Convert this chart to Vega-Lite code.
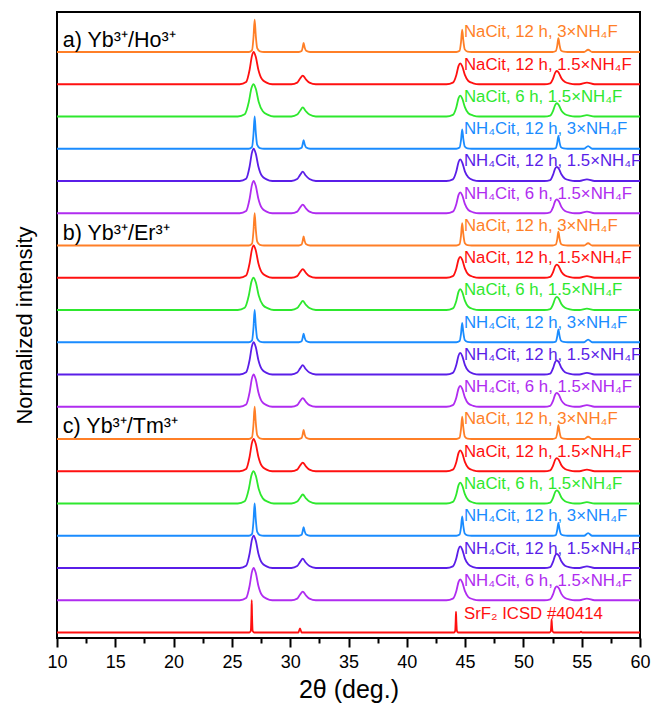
{
"$schema":"https://vega.github.io/schema/vega-lite/v6.json",
"width":583,"height":626,
"autosize":{"type":"none"},
"padding":{"left":57,"top":12,"right":14,"bottom":68},
"config":{"view":{"stroke":"black","strokeWidth":2},"font":"Liberation Sans"},
"datasets":{
"xrd":[
{"s":"a1","x":10,"y":18},{"s":"a1","x":26.45,"y":18},{"s":"a1","x":26.73,"y":18.06},{"s":"a1","x":26.85,"y":18.45},{"s":"a1","x":26.95,"y":19},{"s":"a1","x":27.05,"y":18.5},{"s":"a1","x":27.17,"y":18.12},{"s":"a1","x":27.4,"y":18.02},{"s":"a1","x":27.75,"y":18},
{"s":"a1","x":30.75,"y":18},{"s":"a1","x":30.98,"y":18.03},{"s":"a1","x":31.07,"y":18.14},{"s":"a1","x":31.15,"y":18.28},{"s":"a1","x":31.24,"y":18.14},{"s":"a1","x":31.37,"y":18.04},{"s":"a1","x":31.7,"y":18},
{"s":"a1","x":44.25,"y":18},{"s":"a1","x":44.53,"y":18.04},{"s":"a1","x":44.65,"y":18.31},{"s":"a1","x":44.75,"y":18.69},{"s":"a1","x":44.85,"y":18.35},{"s":"a1","x":44.97,"y":18.08},{"s":"a1","x":45.2,"y":18.01},{"s":"a1","x":45.55,"y":18},
{"s":"a1","x":52.5,"y":18},{"s":"a1","x":52.78,"y":18.03},{"s":"a1","x":52.9,"y":18.19},{"s":"a1","x":53,"y":18.43},{"s":"a1","x":53.1,"y":18.22},{"s":"a1","x":53.22,"y":18.05},{"s":"a1","x":53.45,"y":18.01},{"s":"a1","x":53.8,"y":18},
{"s":"a1","x":55.2,"y":18},{"s":"a1","x":55.55,"y":18.07},{"s":"a1","x":55.9,"y":18},{"s":"a1","x":60,"y":18},

{"s":"a2","x":10,"y":17},{"s":"a2","x":25.67,"y":17},{"s":"a2","x":26.22,"y":17.07},{"s":"a2","x":26.52,"y":17.45},{"s":"a2","x":26.72,"y":17.88},{"s":"a2","x":26.87,"y":18},{"s":"a2","x":27.04,"y":17.86},{"s":"a2","x":27.27,"y":17.45},{"s":"a2","x":27.57,"y":17.16},{"s":"a2","x":27.97,"y":17.05},{"s":"a2","x":28.47,"y":17},
{"s":"a2","x":30.1,"y":17},{"s":"a2","x":30.6,"y":17.05},{"s":"a2","x":30.85,"y":17.18},{"s":"a2","x":31.08,"y":17.27},{"s":"a2","x":31.33,"y":17.16},{"s":"a2","x":31.65,"y":17.05},{"s":"a2","x":32.2,"y":17},
{"s":"a2","x":43.4,"y":17},{"s":"a2","x":43.95,"y":17.05},{"s":"a2","x":44.25,"y":17.29},{"s":"a2","x":44.44,"y":17.57},{"s":"a2","x":44.58,"y":17.65},{"s":"a2","x":44.75,"y":17.56},{"s":"a2","x":44.98,"y":17.29},{"s":"a2","x":45.28,"y":17.1},{"s":"a2","x":45.7,"y":17.03},{"s":"a2","x":46.2,"y":17},
{"s":"a2","x":51.8,"y":17},{"s":"a2","x":52.3,"y":17.03},{"s":"a2","x":52.55,"y":17.18},{"s":"a2","x":52.73,"y":17.36},{"s":"a2","x":52.87,"y":17.41},{"s":"a2","x":53.04,"y":17.35},{"s":"a2","x":53.27,"y":17.18},{"s":"a2","x":53.57,"y":17.07},{"s":"a2","x":54,"y":17.02},{"s":"a2","x":54.4,"y":17},
{"s":"a2","x":54.8,"y":17},{"s":"a2","x":55.45,"y":17.05},{"s":"a2","x":56.1,"y":17},{"s":"a2","x":60,"y":17},

{"s":"a3","x":10,"y":16},{"s":"a3","x":25.5,"y":16},{"s":"a3","x":26.1,"y":16.07},{"s":"a3","x":26.45,"y":16.45},{"s":"a3","x":26.68,"y":16.88},{"s":"a3","x":26.85,"y":17},{"s":"a3","x":27.05,"y":16.86},{"s":"a3","x":27.3,"y":16.45},{"s":"a3","x":27.65,"y":16.16},{"s":"a3","x":28.1,"y":16.05},{"s":"a3","x":28.6,"y":16},
{"s":"a3","x":30.1,"y":16},{"s":"a3","x":30.6,"y":16.06},{"s":"a3","x":30.85,"y":16.18},{"s":"a3","x":31.08,"y":16.28},{"s":"a3","x":31.33,"y":16.17},{"s":"a3","x":31.65,"y":16.06},{"s":"a3","x":32.2,"y":16},
{"s":"a3","x":43.4,"y":16},{"s":"a3","x":43.95,"y":16.05},{"s":"a3","x":44.25,"y":16.29},{"s":"a3","x":44.44,"y":16.57},{"s":"a3","x":44.58,"y":16.65},{"s":"a3","x":44.75,"y":16.56},{"s":"a3","x":44.98,"y":16.29},{"s":"a3","x":45.28,"y":16.1},{"s":"a3","x":45.7,"y":16.03},{"s":"a3","x":46.2,"y":16},
{"s":"a3","x":51.8,"y":16},{"s":"a3","x":52.3,"y":16.03},{"s":"a3","x":52.55,"y":16.18},{"s":"a3","x":52.73,"y":16.36},{"s":"a3","x":52.87,"y":16.41},{"s":"a3","x":53.04,"y":16.35},{"s":"a3","x":53.27,"y":16.18},{"s":"a3","x":53.57,"y":16.07},{"s":"a3","x":54,"y":16.02},{"s":"a3","x":54.4,"y":16},
{"s":"a3","x":54.8,"y":16},{"s":"a3","x":55.45,"y":16.04},{"s":"a3","x":56.1,"y":16},{"s":"a3","x":60,"y":16},

{"s":"a4","x":10,"y":15},{"s":"a4","x":26.45,"y":15},{"s":"a4","x":26.73,"y":15.06},{"s":"a4","x":26.85,"y":15.45},{"s":"a4","x":26.95,"y":16},{"s":"a4","x":27.05,"y":15.5},{"s":"a4","x":27.17,"y":15.12},{"s":"a4","x":27.4,"y":15.02},{"s":"a4","x":27.75,"y":15},
{"s":"a4","x":30.75,"y":15},{"s":"a4","x":30.98,"y":15.03},{"s":"a4","x":31.07,"y":15.14},{"s":"a4","x":31.15,"y":15.27},{"s":"a4","x":31.24,"y":15.14},{"s":"a4","x":31.37,"y":15.04},{"s":"a4","x":31.7,"y":15},
{"s":"a4","x":44.25,"y":15},{"s":"a4","x":44.53,"y":15.04},{"s":"a4","x":44.65,"y":15.27},{"s":"a4","x":44.75,"y":15.6},{"s":"a4","x":44.85,"y":15.3},{"s":"a4","x":44.97,"y":15.07},{"s":"a4","x":45.2,"y":15.01},{"s":"a4","x":45.55,"y":15},
{"s":"a4","x":52.5,"y":15},{"s":"a4","x":52.78,"y":15.02},{"s":"a4","x":52.9,"y":15.18},{"s":"a4","x":53,"y":15.4},{"s":"a4","x":53.1,"y":15.2},{"s":"a4","x":53.22,"y":15.05},{"s":"a4","x":53.45,"y":15.01},{"s":"a4","x":53.8,"y":15},
{"s":"a4","x":55.2,"y":15},{"s":"a4","x":55.55,"y":15.08},{"s":"a4","x":55.9,"y":15},{"s":"a4","x":60,"y":15},

{"s":"a5","x":10,"y":14},{"s":"a5","x":25.67,"y":14},{"s":"a5","x":26.22,"y":14.07},{"s":"a5","x":26.52,"y":14.45},{"s":"a5","x":26.72,"y":14.88},{"s":"a5","x":26.87,"y":15},{"s":"a5","x":27.04,"y":14.86},{"s":"a5","x":27.27,"y":14.45},{"s":"a5","x":27.57,"y":14.16},{"s":"a5","x":27.97,"y":14.05},{"s":"a5","x":28.47,"y":14},
{"s":"a5","x":30.1,"y":14},{"s":"a5","x":30.6,"y":14.06},{"s":"a5","x":30.85,"y":14.19},{"s":"a5","x":31.08,"y":14.29},{"s":"a5","x":31.33,"y":14.17},{"s":"a5","x":31.65,"y":14.06},{"s":"a5","x":32.2,"y":14},
{"s":"a5","x":43.4,"y":14},{"s":"a5","x":43.95,"y":14.05},{"s":"a5","x":44.25,"y":14.3},{"s":"a5","x":44.44,"y":14.59},{"s":"a5","x":44.58,"y":14.67},{"s":"a5","x":44.75,"y":14.58},{"s":"a5","x":44.98,"y":14.3},{"s":"a5","x":45.28,"y":14.11},{"s":"a5","x":45.7,"y":14.03},{"s":"a5","x":46.2,"y":14},
{"s":"a5","x":51.8,"y":14},{"s":"a5","x":52.3,"y":14.03},{"s":"a5","x":52.55,"y":14.2},{"s":"a5","x":52.73,"y":14.39},{"s":"a5","x":52.87,"y":14.44},{"s":"a5","x":53.04,"y":14.38},{"s":"a5","x":53.27,"y":14.2},{"s":"a5","x":53.57,"y":14.07},{"s":"a5","x":54,"y":14.02},{"s":"a5","x":54.4,"y":14},
{"s":"a5","x":54.8,"y":14},{"s":"a5","x":55.45,"y":14.05},{"s":"a5","x":56.1,"y":14},{"s":"a5","x":60,"y":14},

{"s":"a6","x":10,"y":13},{"s":"a6","x":25.67,"y":13},{"s":"a6","x":26.22,"y":13.07},{"s":"a6","x":26.52,"y":13.45},{"s":"a6","x":26.72,"y":13.88},{"s":"a6","x":26.87,"y":14},{"s":"a6","x":27.04,"y":13.86},{"s":"a6","x":27.27,"y":13.45},{"s":"a6","x":27.57,"y":13.16},{"s":"a6","x":27.97,"y":13.05},{"s":"a6","x":28.47,"y":13},
{"s":"a6","x":30.1,"y":13},{"s":"a6","x":30.6,"y":13.05},{"s":"a6","x":30.85,"y":13.18},{"s":"a6","x":31.08,"y":13.27},{"s":"a6","x":31.33,"y":13.16},{"s":"a6","x":31.65,"y":13.05},{"s":"a6","x":32.2,"y":13},
{"s":"a6","x":43.4,"y":13},{"s":"a6","x":43.95,"y":13.05},{"s":"a6","x":44.25,"y":13.29},{"s":"a6","x":44.44,"y":13.57},{"s":"a6","x":44.58,"y":13.65},{"s":"a6","x":44.75,"y":13.56},{"s":"a6","x":44.98,"y":13.29},{"s":"a6","x":45.28,"y":13.1},{"s":"a6","x":45.7,"y":13.03},{"s":"a6","x":46.2,"y":13},
{"s":"a6","x":51.8,"y":13},{"s":"a6","x":52.3,"y":13.03},{"s":"a6","x":52.55,"y":13.19},{"s":"a6","x":52.73,"y":13.38},{"s":"a6","x":52.87,"y":13.43},{"s":"a6","x":53.04,"y":13.37},{"s":"a6","x":53.27,"y":13.19},{"s":"a6","x":53.57,"y":13.07},{"s":"a6","x":54,"y":13.02},{"s":"a6","x":54.4,"y":13},
{"s":"a6","x":54.8,"y":13},{"s":"a6","x":55.45,"y":13.05},{"s":"a6","x":56.1,"y":13},{"s":"a6","x":60,"y":13},

{"s":"b1","x":10,"y":12},{"s":"b1","x":26.45,"y":12},{"s":"b1","x":26.73,"y":12.06},{"s":"b1","x":26.85,"y":12.45},{"s":"b1","x":26.95,"y":13},{"s":"b1","x":27.05,"y":12.5},{"s":"b1","x":27.17,"y":12.12},{"s":"b1","x":27.4,"y":12.02},{"s":"b1","x":27.75,"y":12},
{"s":"b1","x":30.75,"y":12},{"s":"b1","x":30.98,"y":12.03},{"s":"b1","x":31.07,"y":12.14},{"s":"b1","x":31.15,"y":12.28},{"s":"b1","x":31.24,"y":12.14},{"s":"b1","x":31.37,"y":12.04},{"s":"b1","x":31.7,"y":12},
{"s":"b1","x":44.25,"y":12},{"s":"b1","x":44.53,"y":12.04},{"s":"b1","x":44.65,"y":12.31},{"s":"b1","x":44.75,"y":12.69},{"s":"b1","x":44.85,"y":12.35},{"s":"b1","x":44.97,"y":12.08},{"s":"b1","x":45.2,"y":12.01},{"s":"b1","x":45.55,"y":12},
{"s":"b1","x":52.5,"y":12},{"s":"b1","x":52.78,"y":12.03},{"s":"b1","x":52.9,"y":12.19},{"s":"b1","x":53,"y":12.43},{"s":"b1","x":53.1,"y":12.22},{"s":"b1","x":53.22,"y":12.05},{"s":"b1","x":53.45,"y":12.01},{"s":"b1","x":53.8,"y":12},
{"s":"b1","x":55.2,"y":12},{"s":"b1","x":55.55,"y":12.07},{"s":"b1","x":55.9,"y":12},{"s":"b1","x":60,"y":12},

{"s":"b2","x":10,"y":11},{"s":"b2","x":25.67,"y":11},{"s":"b2","x":26.22,"y":11.07},{"s":"b2","x":26.52,"y":11.45},{"s":"b2","x":26.72,"y":11.88},{"s":"b2","x":26.87,"y":12},{"s":"b2","x":27.04,"y":11.86},{"s":"b2","x":27.27,"y":11.45},{"s":"b2","x":27.57,"y":11.16},{"s":"b2","x":27.97,"y":11.05},{"s":"b2","x":28.47,"y":11},
{"s":"b2","x":30.1,"y":11},{"s":"b2","x":30.6,"y":11.05},{"s":"b2","x":30.85,"y":11.18},{"s":"b2","x":31.08,"y":11.27},{"s":"b2","x":31.33,"y":11.16},{"s":"b2","x":31.65,"y":11.05},{"s":"b2","x":32.2,"y":11},
{"s":"b2","x":43.4,"y":11},{"s":"b2","x":43.95,"y":11.05},{"s":"b2","x":44.25,"y":11.29},{"s":"b2","x":44.44,"y":11.57},{"s":"b2","x":44.58,"y":11.65},{"s":"b2","x":44.75,"y":11.56},{"s":"b2","x":44.98,"y":11.29},{"s":"b2","x":45.28,"y":11.1},{"s":"b2","x":45.7,"y":11.03},{"s":"b2","x":46.2,"y":11},
{"s":"b2","x":51.8,"y":11},{"s":"b2","x":52.3,"y":11.03},{"s":"b2","x":52.55,"y":11.18},{"s":"b2","x":52.73,"y":11.36},{"s":"b2","x":52.87,"y":11.41},{"s":"b2","x":53.04,"y":11.35},{"s":"b2","x":53.27,"y":11.18},{"s":"b2","x":53.57,"y":11.07},{"s":"b2","x":54,"y":11.02},{"s":"b2","x":54.4,"y":11},
{"s":"b2","x":54.8,"y":11},{"s":"b2","x":55.45,"y":11.05},{"s":"b2","x":56.1,"y":11},{"s":"b2","x":60,"y":11},

{"s":"b3","x":10,"y":10},{"s":"b3","x":25.5,"y":10},{"s":"b3","x":26.1,"y":10.07},{"s":"b3","x":26.45,"y":10.45},{"s":"b3","x":26.68,"y":10.88},{"s":"b3","x":26.85,"y":11},{"s":"b3","x":27.05,"y":10.86},{"s":"b3","x":27.3,"y":10.45},{"s":"b3","x":27.65,"y":10.16},{"s":"b3","x":28.1,"y":10.05},{"s":"b3","x":28.6,"y":10},
{"s":"b3","x":30.1,"y":10},{"s":"b3","x":30.6,"y":10.06},{"s":"b3","x":30.85,"y":10.18},{"s":"b3","x":31.08,"y":10.28},{"s":"b3","x":31.33,"y":10.17},{"s":"b3","x":31.65,"y":10.06},{"s":"b3","x":32.2,"y":10},
{"s":"b3","x":43.4,"y":10},{"s":"b3","x":43.95,"y":10.05},{"s":"b3","x":44.25,"y":10.29},{"s":"b3","x":44.44,"y":10.57},{"s":"b3","x":44.58,"y":10.65},{"s":"b3","x":44.75,"y":10.56},{"s":"b3","x":44.98,"y":10.29},{"s":"b3","x":45.28,"y":10.1},{"s":"b3","x":45.7,"y":10.03},{"s":"b3","x":46.2,"y":10},
{"s":"b3","x":51.8,"y":10},{"s":"b3","x":52.3,"y":10.03},{"s":"b3","x":52.55,"y":10.18},{"s":"b3","x":52.73,"y":10.36},{"s":"b3","x":52.87,"y":10.41},{"s":"b3","x":53.04,"y":10.35},{"s":"b3","x":53.27,"y":10.18},{"s":"b3","x":53.57,"y":10.07},{"s":"b3","x":54,"y":10.02},{"s":"b3","x":54.4,"y":10},
{"s":"b3","x":54.8,"y":10},{"s":"b3","x":55.45,"y":10.04},{"s":"b3","x":56.1,"y":10},{"s":"b3","x":60,"y":10},

{"s":"b4","x":10,"y":9},{"s":"b4","x":26.45,"y":9},{"s":"b4","x":26.73,"y":9.06},{"s":"b4","x":26.85,"y":9.45},{"s":"b4","x":26.95,"y":10},{"s":"b4","x":27.05,"y":9.5},{"s":"b4","x":27.17,"y":9.12},{"s":"b4","x":27.4,"y":9.02},{"s":"b4","x":27.75,"y":9},
{"s":"b4","x":30.75,"y":9},{"s":"b4","x":30.98,"y":9.03},{"s":"b4","x":31.07,"y":9.14},{"s":"b4","x":31.15,"y":9.27},{"s":"b4","x":31.24,"y":9.14},{"s":"b4","x":31.37,"y":9.04},{"s":"b4","x":31.7,"y":9},
{"s":"b4","x":44.25,"y":9},{"s":"b4","x":44.53,"y":9.04},{"s":"b4","x":44.65,"y":9.27},{"s":"b4","x":44.75,"y":9.6},{"s":"b4","x":44.85,"y":9.3},{"s":"b4","x":44.97,"y":9.07},{"s":"b4","x":45.2,"y":9.01},{"s":"b4","x":45.55,"y":9},
{"s":"b4","x":52.5,"y":9},{"s":"b4","x":52.78,"y":9.02},{"s":"b4","x":52.9,"y":9.18},{"s":"b4","x":53,"y":9.4},{"s":"b4","x":53.1,"y":9.2},{"s":"b4","x":53.22,"y":9.05},{"s":"b4","x":53.45,"y":9.01},{"s":"b4","x":53.8,"y":9},
{"s":"b4","x":55.2,"y":9},{"s":"b4","x":55.55,"y":9.08},{"s":"b4","x":55.9,"y":9},{"s":"b4","x":60,"y":9},

{"s":"b5","x":10,"y":8},{"s":"b5","x":25.67,"y":8},{"s":"b5","x":26.22,"y":8.07},{"s":"b5","x":26.52,"y":8.45},{"s":"b5","x":26.72,"y":8.88},{"s":"b5","x":26.87,"y":9},{"s":"b5","x":27.04,"y":8.86},{"s":"b5","x":27.27,"y":8.45},{"s":"b5","x":27.57,"y":8.16},{"s":"b5","x":27.97,"y":8.05},{"s":"b5","x":28.47,"y":8},
{"s":"b5","x":30.1,"y":8},{"s":"b5","x":30.6,"y":8.06},{"s":"b5","x":30.85,"y":8.19},{"s":"b5","x":31.08,"y":8.29},{"s":"b5","x":31.33,"y":8.17},{"s":"b5","x":31.65,"y":8.06},{"s":"b5","x":32.2,"y":8},
{"s":"b5","x":43.4,"y":8},{"s":"b5","x":43.95,"y":8.05},{"s":"b5","x":44.25,"y":8.3},{"s":"b5","x":44.44,"y":8.59},{"s":"b5","x":44.58,"y":8.67},{"s":"b5","x":44.75,"y":8.58},{"s":"b5","x":44.98,"y":8.3},{"s":"b5","x":45.28,"y":8.11},{"s":"b5","x":45.7,"y":8.03},{"s":"b5","x":46.2,"y":8},
{"s":"b5","x":51.8,"y":8},{"s":"b5","x":52.3,"y":8.03},{"s":"b5","x":52.55,"y":8.2},{"s":"b5","x":52.73,"y":8.39},{"s":"b5","x":52.87,"y":8.44},{"s":"b5","x":53.04,"y":8.38},{"s":"b5","x":53.27,"y":8.2},{"s":"b5","x":53.57,"y":8.07},{"s":"b5","x":54,"y":8.02},{"s":"b5","x":54.4,"y":8},
{"s":"b5","x":54.8,"y":8},{"s":"b5","x":55.45,"y":8.05},{"s":"b5","x":56.1,"y":8},{"s":"b5","x":60,"y":8},

{"s":"b6","x":10,"y":7},{"s":"b6","x":25.67,"y":7},{"s":"b6","x":26.22,"y":7.07},{"s":"b6","x":26.52,"y":7.45},{"s":"b6","x":26.72,"y":7.88},{"s":"b6","x":26.87,"y":8},{"s":"b6","x":27.04,"y":7.86},{"s":"b6","x":27.27,"y":7.45},{"s":"b6","x":27.57,"y":7.16},{"s":"b6","x":27.97,"y":7.05},{"s":"b6","x":28.47,"y":7},
{"s":"b6","x":30.1,"y":7},{"s":"b6","x":30.6,"y":7.05},{"s":"b6","x":30.85,"y":7.18},{"s":"b6","x":31.08,"y":7.27},{"s":"b6","x":31.33,"y":7.16},{"s":"b6","x":31.65,"y":7.05},{"s":"b6","x":32.2,"y":7},
{"s":"b6","x":43.4,"y":7},{"s":"b6","x":43.95,"y":7.05},{"s":"b6","x":44.25,"y":7.29},{"s":"b6","x":44.44,"y":7.57},{"s":"b6","x":44.58,"y":7.65},{"s":"b6","x":44.75,"y":7.56},{"s":"b6","x":44.98,"y":7.29},{"s":"b6","x":45.28,"y":7.1},{"s":"b6","x":45.7,"y":7.03},{"s":"b6","x":46.2,"y":7},
{"s":"b6","x":51.8,"y":7},{"s":"b6","x":52.3,"y":7.03},{"s":"b6","x":52.55,"y":7.19},{"s":"b6","x":52.73,"y":7.38},{"s":"b6","x":52.87,"y":7.43},{"s":"b6","x":53.04,"y":7.37},{"s":"b6","x":53.27,"y":7.19},{"s":"b6","x":53.57,"y":7.07},{"s":"b6","x":54,"y":7.02},{"s":"b6","x":54.4,"y":7},
{"s":"b6","x":54.8,"y":7},{"s":"b6","x":55.45,"y":7.05},{"s":"b6","x":56.1,"y":7},{"s":"b6","x":60,"y":7},

{"s":"c1","x":10,"y":6},{"s":"c1","x":26.45,"y":6},{"s":"c1","x":26.73,"y":6.06},{"s":"c1","x":26.85,"y":6.45},{"s":"c1","x":26.95,"y":7},{"s":"c1","x":27.05,"y":6.5},{"s":"c1","x":27.17,"y":6.12},{"s":"c1","x":27.4,"y":6.02},{"s":"c1","x":27.75,"y":6},
{"s":"c1","x":30.75,"y":6},{"s":"c1","x":30.98,"y":6.03},{"s":"c1","x":31.07,"y":6.14},{"s":"c1","x":31.15,"y":6.28},{"s":"c1","x":31.24,"y":6.14},{"s":"c1","x":31.37,"y":6.04},{"s":"c1","x":31.7,"y":6},
{"s":"c1","x":44.25,"y":6},{"s":"c1","x":44.53,"y":6.04},{"s":"c1","x":44.65,"y":6.31},{"s":"c1","x":44.75,"y":6.69},{"s":"c1","x":44.85,"y":6.35},{"s":"c1","x":44.97,"y":6.08},{"s":"c1","x":45.2,"y":6.01},{"s":"c1","x":45.55,"y":6},
{"s":"c1","x":52.5,"y":6},{"s":"c1","x":52.78,"y":6.03},{"s":"c1","x":52.9,"y":6.19},{"s":"c1","x":53,"y":6.43},{"s":"c1","x":53.1,"y":6.22},{"s":"c1","x":53.22,"y":6.05},{"s":"c1","x":53.45,"y":6.01},{"s":"c1","x":53.8,"y":6},
{"s":"c1","x":55.2,"y":6},{"s":"c1","x":55.55,"y":6.07},{"s":"c1","x":55.9,"y":6},{"s":"c1","x":60,"y":6},

{"s":"c2","x":10,"y":5},{"s":"c2","x":25.67,"y":5},{"s":"c2","x":26.22,"y":5.07},{"s":"c2","x":26.52,"y":5.45},{"s":"c2","x":26.72,"y":5.88},{"s":"c2","x":26.87,"y":6},{"s":"c2","x":27.04,"y":5.86},{"s":"c2","x":27.27,"y":5.45},{"s":"c2","x":27.57,"y":5.16},{"s":"c2","x":27.97,"y":5.05},{"s":"c2","x":28.47,"y":5},
{"s":"c2","x":30.1,"y":5},{"s":"c2","x":30.6,"y":5.05},{"s":"c2","x":30.85,"y":5.18},{"s":"c2","x":31.08,"y":5.27},{"s":"c2","x":31.33,"y":5.16},{"s":"c2","x":31.65,"y":5.05},{"s":"c2","x":32.2,"y":5},
{"s":"c2","x":43.4,"y":5},{"s":"c2","x":43.95,"y":5.05},{"s":"c2","x":44.25,"y":5.29},{"s":"c2","x":44.44,"y":5.57},{"s":"c2","x":44.58,"y":5.65},{"s":"c2","x":44.75,"y":5.56},{"s":"c2","x":44.98,"y":5.29},{"s":"c2","x":45.28,"y":5.1},{"s":"c2","x":45.7,"y":5.03},{"s":"c2","x":46.2,"y":5},
{"s":"c2","x":51.8,"y":5},{"s":"c2","x":52.3,"y":5.03},{"s":"c2","x":52.55,"y":5.18},{"s":"c2","x":52.73,"y":5.36},{"s":"c2","x":52.87,"y":5.41},{"s":"c2","x":53.04,"y":5.35},{"s":"c2","x":53.27,"y":5.18},{"s":"c2","x":53.57,"y":5.07},{"s":"c2","x":54,"y":5.02},{"s":"c2","x":54.4,"y":5},
{"s":"c2","x":54.8,"y":5},{"s":"c2","x":55.45,"y":5.05},{"s":"c2","x":56.1,"y":5},{"s":"c2","x":60,"y":5},

{"s":"c3","x":10,"y":4},{"s":"c3","x":25.5,"y":4},{"s":"c3","x":26.1,"y":4.07},{"s":"c3","x":26.45,"y":4.45},{"s":"c3","x":26.68,"y":4.88},{"s":"c3","x":26.85,"y":5},{"s":"c3","x":27.05,"y":4.86},{"s":"c3","x":27.3,"y":4.45},{"s":"c3","x":27.65,"y":4.16},{"s":"c3","x":28.1,"y":4.05},{"s":"c3","x":28.6,"y":4},
{"s":"c3","x":30.1,"y":4},{"s":"c3","x":30.6,"y":4.06},{"s":"c3","x":30.85,"y":4.18},{"s":"c3","x":31.08,"y":4.28},{"s":"c3","x":31.33,"y":4.17},{"s":"c3","x":31.65,"y":4.06},{"s":"c3","x":32.2,"y":4},
{"s":"c3","x":43.4,"y":4},{"s":"c3","x":43.95,"y":4.05},{"s":"c3","x":44.25,"y":4.29},{"s":"c3","x":44.44,"y":4.57},{"s":"c3","x":44.58,"y":4.65},{"s":"c3","x":44.75,"y":4.56},{"s":"c3","x":44.98,"y":4.29},{"s":"c3","x":45.28,"y":4.1},{"s":"c3","x":45.7,"y":4.03},{"s":"c3","x":46.2,"y":4},
{"s":"c3","x":51.8,"y":4},{"s":"c3","x":52.3,"y":4.03},{"s":"c3","x":52.55,"y":4.18},{"s":"c3","x":52.73,"y":4.36},{"s":"c3","x":52.87,"y":4.41},{"s":"c3","x":53.04,"y":4.35},{"s":"c3","x":53.27,"y":4.18},{"s":"c3","x":53.57,"y":4.07},{"s":"c3","x":54,"y":4.02},{"s":"c3","x":54.4,"y":4},
{"s":"c3","x":54.8,"y":4},{"s":"c3","x":55.45,"y":4.04},{"s":"c3","x":56.1,"y":4},{"s":"c3","x":60,"y":4},

{"s":"c4","x":10,"y":3},{"s":"c4","x":26.45,"y":3},{"s":"c4","x":26.73,"y":3.06},{"s":"c4","x":26.85,"y":3.45},{"s":"c4","x":26.95,"y":4},{"s":"c4","x":27.05,"y":3.5},{"s":"c4","x":27.17,"y":3.12},{"s":"c4","x":27.4,"y":3.02},{"s":"c4","x":27.75,"y":3},
{"s":"c4","x":30.75,"y":3},{"s":"c4","x":30.98,"y":3.03},{"s":"c4","x":31.07,"y":3.14},{"s":"c4","x":31.15,"y":3.27},{"s":"c4","x":31.24,"y":3.14},{"s":"c4","x":31.37,"y":3.04},{"s":"c4","x":31.7,"y":3},
{"s":"c4","x":44.25,"y":3},{"s":"c4","x":44.53,"y":3.04},{"s":"c4","x":44.65,"y":3.27},{"s":"c4","x":44.75,"y":3.6},{"s":"c4","x":44.85,"y":3.3},{"s":"c4","x":44.97,"y":3.07},{"s":"c4","x":45.2,"y":3.01},{"s":"c4","x":45.55,"y":3},
{"s":"c4","x":52.5,"y":3},{"s":"c4","x":52.78,"y":3.02},{"s":"c4","x":52.9,"y":3.18},{"s":"c4","x":53,"y":3.4},{"s":"c4","x":53.1,"y":3.2},{"s":"c4","x":53.22,"y":3.05},{"s":"c4","x":53.45,"y":3.01},{"s":"c4","x":53.8,"y":3},
{"s":"c4","x":55.2,"y":3},{"s":"c4","x":55.55,"y":3.08},{"s":"c4","x":55.9,"y":3},{"s":"c4","x":60,"y":3},

{"s":"c5","x":10,"y":2},{"s":"c5","x":25.67,"y":2},{"s":"c5","x":26.22,"y":2.07},{"s":"c5","x":26.52,"y":2.45},{"s":"c5","x":26.72,"y":2.88},{"s":"c5","x":26.87,"y":3},{"s":"c5","x":27.04,"y":2.86},{"s":"c5","x":27.27,"y":2.45},{"s":"c5","x":27.57,"y":2.16},{"s":"c5","x":27.97,"y":2.05},{"s":"c5","x":28.47,"y":2},
{"s":"c5","x":30.1,"y":2},{"s":"c5","x":30.6,"y":2.06},{"s":"c5","x":30.85,"y":2.19},{"s":"c5","x":31.08,"y":2.29},{"s":"c5","x":31.33,"y":2.17},{"s":"c5","x":31.65,"y":2.06},{"s":"c5","x":32.2,"y":2},
{"s":"c5","x":43.4,"y":2},{"s":"c5","x":43.95,"y":2.05},{"s":"c5","x":44.25,"y":2.3},{"s":"c5","x":44.44,"y":2.59},{"s":"c5","x":44.58,"y":2.67},{"s":"c5","x":44.75,"y":2.58},{"s":"c5","x":44.98,"y":2.3},{"s":"c5","x":45.28,"y":2.11},{"s":"c5","x":45.7,"y":2.03},{"s":"c5","x":46.2,"y":2},
{"s":"c5","x":51.8,"y":2},{"s":"c5","x":52.3,"y":2.03},{"s":"c5","x":52.55,"y":2.2},{"s":"c5","x":52.73,"y":2.39},{"s":"c5","x":52.87,"y":2.44},{"s":"c5","x":53.04,"y":2.38},{"s":"c5","x":53.27,"y":2.2},{"s":"c5","x":53.57,"y":2.07},{"s":"c5","x":54,"y":2.02},{"s":"c5","x":54.4,"y":2},
{"s":"c5","x":54.8,"y":2},{"s":"c5","x":55.45,"y":2.05},{"s":"c5","x":56.1,"y":2},{"s":"c5","x":60,"y":2},

{"s":"c6","x":10,"y":1},{"s":"c6","x":25.67,"y":1},{"s":"c6","x":26.22,"y":1.07},{"s":"c6","x":26.52,"y":1.45},{"s":"c6","x":26.72,"y":1.88},{"s":"c6","x":26.87,"y":2},{"s":"c6","x":27.04,"y":1.86},{"s":"c6","x":27.27,"y":1.45},{"s":"c6","x":27.57,"y":1.16},{"s":"c6","x":27.97,"y":1.05},{"s":"c6","x":28.47,"y":1},
{"s":"c6","x":30.1,"y":1},{"s":"c6","x":30.6,"y":1.05},{"s":"c6","x":30.85,"y":1.18},{"s":"c6","x":31.08,"y":1.27},{"s":"c6","x":31.33,"y":1.16},{"s":"c6","x":31.65,"y":1.05},{"s":"c6","x":32.2,"y":1},
{"s":"c6","x":43.4,"y":1},{"s":"c6","x":43.95,"y":1.05},{"s":"c6","x":44.25,"y":1.29},{"s":"c6","x":44.44,"y":1.57},{"s":"c6","x":44.58,"y":1.65},{"s":"c6","x":44.75,"y":1.56},{"s":"c6","x":44.98,"y":1.29},{"s":"c6","x":45.28,"y":1.1},{"s":"c6","x":45.7,"y":1.03},{"s":"c6","x":46.2,"y":1},
{"s":"c6","x":51.8,"y":1},{"s":"c6","x":52.3,"y":1.03},{"s":"c6","x":52.55,"y":1.19},{"s":"c6","x":52.73,"y":1.38},{"s":"c6","x":52.87,"y":1.43},{"s":"c6","x":53.04,"y":1.37},{"s":"c6","x":53.27,"y":1.19},{"s":"c6","x":53.57,"y":1.07},{"s":"c6","x":54,"y":1.02},{"s":"c6","x":54.4,"y":1},
{"s":"c6","x":54.8,"y":1},{"s":"c6","x":55.45,"y":1.05},{"s":"c6","x":56.1,"y":1},{"s":"c6","x":60,"y":1},

{"s":"r","x":10,"y":0},{"s":"r","x":26.5,"y":0},{"s":"r","x":26.62,"y":0.05},{"s":"r","x":26.67,"y":0.5},{"s":"r","x":26.7,"y":1},{"s":"r","x":26.73,"y":0.5},{"s":"r","x":26.78,"y":0.05},{"s":"r","x":26.9,"y":0},
{"s":"r","x":30.7,"y":0},{"s":"r","x":30.84,"y":0.13},{"s":"r","x":30.98,"y":0},
{"s":"r","x":44.05,"y":0},{"s":"r","x":44.15,"y":0.05},{"s":"r","x":44.19,"y":0.35},{"s":"r","x":44.22,"y":0.65},{"s":"r","x":44.25,"y":0.35},{"s":"r","x":44.3,"y":0.05},{"s":"r","x":44.4,"y":0},
{"s":"r","x":52.25,"y":0},{"s":"r","x":52.35,"y":0.04},{"s":"r","x":52.39,"y":0.22},{"s":"r","x":52.42,"y":0.41},{"s":"r","x":52.45,"y":0.22},{"s":"r","x":52.5,"y":0.04},{"s":"r","x":52.6,"y":0},
{"s":"r","x":54.85,"y":0},{"s":"r","x":54.94,"y":0.03},{"s":"r","x":55.03,"y":0},{"s":"r","x":60,"y":0}
],
"labels":[
{"s":"a1","label":"NaCit, 12 h, 3×NH₄F","x":44.9,"y":18.45},
{"s":"a2","label":"NaCit, 12 h, 1.5×NH₄F","x":44.9,"y":17.45},
{"s":"a3","label":"NaCit, 6 h, 1.5×NH₄F","x":44.9,"y":16.45},
{"s":"a4","label":"NH₄Cit, 12 h, 3×NH₄F","x":44.9,"y":15.45},
{"s":"a5","label":"NH₄Cit, 12 h, 1.5×NH₄F","x":44.9,"y":14.45},
{"s":"a6","label":"NH₄Cit, 6 h, 1.5×NH₄F","x":44.9,"y":13.45},
{"s":"b1","label":"NaCit, 12 h, 3×NH₄F","x":44.9,"y":12.45},
{"s":"b2","label":"NaCit, 12 h, 1.5×NH₄F","x":44.9,"y":11.45},
{"s":"b3","label":"NaCit, 6 h, 1.5×NH₄F","x":44.9,"y":10.45},
{"s":"b4","label":"NH₄Cit, 12 h, 3×NH₄F","x":44.9,"y":9.45},
{"s":"b5","label":"NH₄Cit, 12 h, 1.5×NH₄F","x":44.9,"y":8.45},
{"s":"b6","label":"NH₄Cit, 6 h, 1.5×NH₄F","x":44.9,"y":7.45},
{"s":"c1","label":"NaCit, 12 h, 3×NH₄F","x":44.9,"y":6.45},
{"s":"c2","label":"NaCit, 12 h, 1.5×NH₄F","x":44.9,"y":5.45},
{"s":"c3","label":"NaCit, 6 h, 1.5×NH₄F","x":44.9,"y":4.45},
{"s":"c4","label":"NH₄Cit, 12 h, 3×NH₄F","x":44.9,"y":3.45},
{"s":"c5","label":"NH₄Cit, 12 h, 1.5×NH₄F","x":44.9,"y":2.45},
{"s":"c6","label":"NH₄Cit, 6 h, 1.5×NH₄F","x":44.9,"y":1.45},
{"s":"r","label":"SrF₂ ICSD #40414","x":44.9,"y":0.42}
],
"groups":[
{"label":"a) Yb³⁺/Ho³⁺","x":10.5,"y":18.16},
{"label":"b) Yb³⁺/Er³⁺","x":10.5,"y":12.17},
{"label":"c) Yb³⁺/Tm³⁺","x":10.5,"y":6.19}
]
},
"layer":[
{"data":{"name":"xrd"},
 "mark":{"type":"line","interpolate":"monotone","strokeWidth":1.8,"clip":true},
 "encoding":{
  "x":{"field":"x","type":"quantitative","scale":{"domain":[10,60],"nice":false,"zero":false},
   "axis":{"title":"2θ (deg.)","values":[10,15,20,25,30,35,40,45,50,55,60],"grid":false,"domain":false,"ticks":true,"tickSize":9,"tickWidth":2,"tickColor":"black","labelFontSize":18,"labelColor":"black","labelPadding":6,"labelFlush":false,"labelOverlap":false,"titleFontSize":25,"titleFontWeight":"normal","titleColor":"black","titlePadding":6,"orient":"bottom"}},
  "y":{"field":"y","type":"quantitative","scale":{"domain":[-0.17,19.24],"nice":false,"zero":false},
   "axis":{"title":"Normalized intensity","labels":false,"ticks":false,"grid":false,"domain":false,"titleFontSize":22,"titleFontWeight":"normal","titleColor":"black","titlePadding":21}},
  "color":{"field":"s","type":"nominal","legend":null,
   "scale":{"domain":["a1","a2","a3","a4","a5","a6","b1","b2","b3","b4","b5","b6","c1","c2","c3","c4","c5","c6","r"],
    "range":["#ff7f27","#ff1010","#2ee82e","#1a8cff","#5a1ee8","#b02cf0","#ff7f27","#ff1010","#2ee82e","#1a8cff","#5a1ee8","#b02cf0","#ff7f27","#ff1010","#2ee82e","#1a8cff","#5a1ee8","#b02cf0","#ff1010"]}}
 }},
{"data":{"name":"labels"},
 "mark":{"type":"text","align":"left","baseline":"alphabetic","fontSize":16.8,"clip":true},
 "encoding":{
  "x":{"field":"x","type":"quantitative","axis":null},
  "y":{"field":"y","type":"quantitative","title":"Normalized intensity"},
  "text":{"field":"label"},
  "color":{"field":"s","type":"nominal","legend":null}
 }},
{"data":{"name":"groups"},
 "mark":{"type":"text","align":"left","baseline":"alphabetic","fontSize":21.5,"color":"black"},
 "encoding":{
  "x":{"field":"x","type":"quantitative",
   "axis":{"orient":"bottom","title":null,"labels":false,"domain":false,"grid":false,"values":[12.5,17.5,22.5,27.5,32.5,37.5,42.5,47.5,52.5,57.5],"tickSize":5,"tickWidth":2,"tickColor":"black"}},
  "y":{"field":"y","type":"quantitative","title":"Normalized intensity"},
  "text":{"field":"label"}
 }}
],
"resolve":{"axis":{"x":"independent"}}
}
